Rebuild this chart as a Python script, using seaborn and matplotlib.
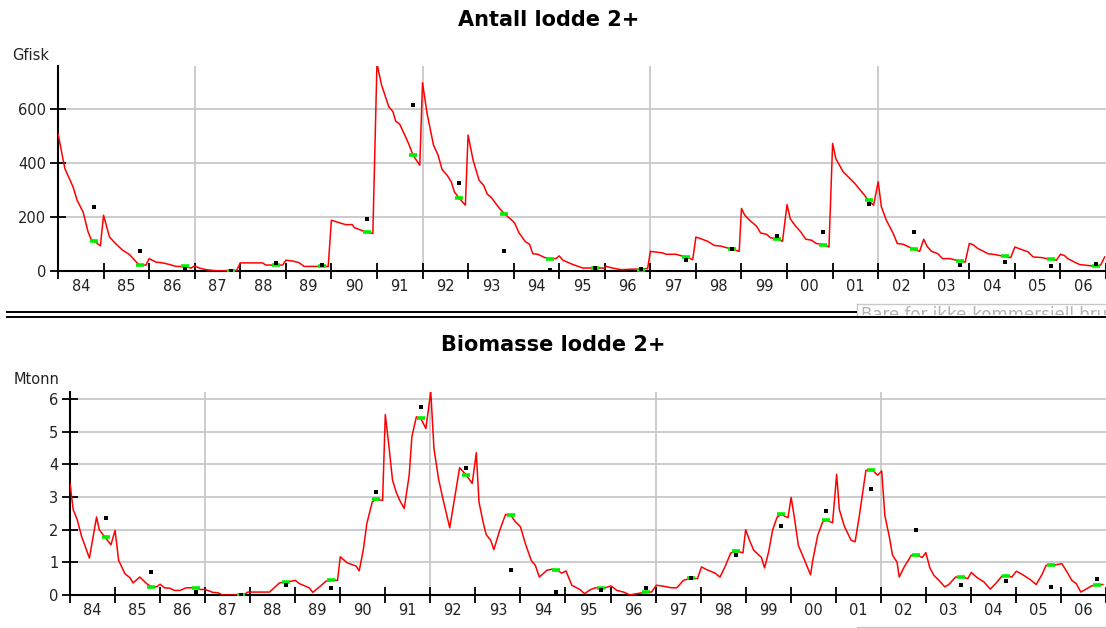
import numpy as np
import pandas as pd
import matplotlib
matplotlib.use("Agg")
import matplotlib.pyplot as plt
import seaborn as sns
from matplotlib.lines import Line2D
from matplotlib.patches import Rectangle

# Antall lodde 2+ (Gfisk) - model curve, time in decimal years
antall_t = [1984.00, 1984.15, 1984.33, 1984.42, 1984.55, 1984.66, 1984.73, 1984.84, 1984.93,
            1985.00, 1985.13, 1985.28, 1985.42, 1985.57, 1985.72, 1985.79, 1985.93,
            1986.00, 1986.15, 1986.30, 1986.45, 1986.59, 1986.77, 1986.92,
            1987.00, 1987.10, 1987.25, 1987.47, 1987.83, 1987.92,
            1988.00, 1988.49, 1988.56, 1988.93,
            1989.00, 1989.15, 1989.29, 1989.40, 1989.93,
            1990.00, 1990.31, 1990.46, 1990.50, 1990.75, 1990.91,
            1991.00, 1991.10, 1991.26, 1991.35, 1991.41, 1991.50, 1991.61, 1991.70, 1991.79, 1991.94,
            1992.00, 1992.10, 1992.24, 1992.34, 1992.43, 1992.54, 1992.63, 1992.70, 1992.80, 1992.94,
            1993.00, 1993.11, 1993.24, 1993.34, 1993.42, 1993.51, 1993.69, 1993.81, 1993.95,
            1994.02, 1994.12, 1994.26, 1994.35, 1994.42, 1994.53, 1994.68, 1994.79, 1994.93,
            1995.00, 1995.08, 1995.30, 1995.52, 1995.99,
            1996.03, 1996.17, 1996.36, 1996.94,
            1997.00, 1997.27, 1997.35, 1997.56, 1997.82, 1997.93,
            1998.00, 1998.26, 1998.40, 1998.55, 1998.81, 1998.95,
            1999.00, 1999.07, 1999.18, 1999.33, 1999.42, 1999.55, 1999.64, 1999.77, 1999.90,
            2000.00, 2000.07, 2000.17, 2000.30, 2000.41, 2000.54, 2000.64, 2000.79, 2000.92,
            2001.00, 2001.07, 2001.23, 2001.49, 2001.70, 2001.78, 2001.90,
            2002.00, 2002.07, 2002.18, 2002.33, 2002.42, 2002.55, 2002.79, 2002.91,
            2003.00, 2003.07, 2003.17, 2003.31, 2003.41, 2003.57, 2003.79, 2003.91,
            2004.00, 2004.08, 2004.19, 2004.30, 2004.41, 2004.56, 2004.77, 2004.91,
            2005.00, 2005.14, 2005.29, 2005.40, 2005.58, 2005.80, 2005.91,
            2006.00, 2006.09, 2006.16, 2006.31, 2006.42, 2006.57, 2006.79, 2006.88, 2006.97]
antall_v = [510, 380, 312, 262, 219, 145, 116, 105, 93,
            207, 126, 99, 77, 61, 33, 22, 22,
            46, 33, 30, 24, 17, 17, 11,
            19, 11, 5, 1, 1, 2,
            30, 30, 22, 22,
            40, 37, 31, 17, 17,
            188, 172, 172, 161, 145, 139,
            770, 690, 609, 591, 556, 544, 504, 470, 430, 392,
            698, 584, 467, 430, 376, 355, 331, 293, 271, 244,
            504, 411, 337, 318, 285, 272, 232, 210, 190,
            178, 141, 108, 99, 64, 62, 50, 46, 46,
            56, 40, 24, 11, 11,
            17, 11, 5, 9,
            73, 67, 62, 62, 50, 42,
            126, 110, 95, 92, 80, 73,
            232, 207, 188, 166, 141, 136, 123, 120, 110,
            246, 194, 170, 145, 118, 114, 102, 98, 89,
            473, 417, 368, 324, 281, 263, 244,
            331, 238, 188, 139, 102, 99, 80, 73,
            118, 92, 73, 64, 46, 46, 37, 33,
            102, 98, 83, 74, 64, 61, 54, 50,
            89, 80, 71, 52, 50, 43, 40,
            62, 57, 46, 33, 24, 21, 17, 21, 52]

# Biomasse lodde 2+ (Mtonn) - model curve
biomasse_t = [1984.00, 1984.07, 1984.16, 1984.26, 1984.33, 1984.43, 1984.59, 1984.65, 1984.77, 1984.91,
              1985.00, 1985.08, 1985.22, 1985.33, 1985.40, 1985.55, 1985.70, 1985.81, 1985.92,
              1986.00, 1986.10, 1986.21, 1986.32, 1986.44, 1986.58, 1986.80, 1986.88,
              1987.00, 1987.17, 1987.28, 1987.39, 1987.84, 1987.95,
              1988.43, 1988.65, 1988.78, 1988.91,
              1989.00, 1989.09, 1989.31, 1989.39, 1989.54, 1989.68, 1989.79, 1989.94,
              1990.00, 1990.16, 1990.35, 1990.42, 1990.51, 1990.59, 1990.71, 1990.79, 1990.94,
              1991.00, 1991.09, 1991.16, 1991.24, 1991.32, 1991.42, 1991.53, 1991.59, 1991.69, 1991.79, 1991.90,
              1992.01, 1992.08, 1992.18, 1992.27, 1992.43, 1992.53, 1992.65, 1992.80, 1992.93,
              1993.02, 1993.08, 1993.17, 1993.24, 1993.34, 1993.41, 1993.54, 1993.67, 1993.79, 1993.89,
              1994.00, 1994.11, 1994.24, 1994.33, 1994.42, 1994.59, 1994.70, 1994.81, 1994.92,
              1995.01, 1995.14, 1995.33, 1995.42, 1995.55, 1995.66, 1995.88,
              1996.01, 1996.14, 1996.29, 1996.43, 1996.58, 1996.80, 1996.91,
              1997.02, 1997.17, 1997.36, 1997.47, 1997.62, 1997.80, 1997.93,
              1998.02, 1998.13, 1998.32, 1998.43, 1998.54, 1998.67, 1998.82, 1998.94,
              1999.00, 1999.09, 1999.18, 1999.35, 1999.42, 1999.51, 1999.60, 1999.70, 1999.79, 1999.94,
              2000.01, 2000.08, 2000.17, 2000.31, 2000.44, 2000.49, 2000.60, 2000.71, 2000.81, 2000.93,
              2001.02, 2001.08, 2001.19, 2001.34, 2001.43, 2001.52, 2001.67, 2001.82, 2001.93,
              2002.02, 2002.09, 2002.19, 2002.26, 2002.36, 2002.41, 2002.52, 2002.68, 2002.80, 2002.92,
              2003.00, 2003.09, 2003.18, 2003.29, 2003.42, 2003.51, 2003.66, 2003.82, 2003.93,
              2004.01, 2004.14, 2004.29, 2004.43, 2004.55, 2004.69, 2004.80, 2004.91,
              2005.01, 2005.14, 2005.32, 2005.45, 2005.58, 2005.67, 2005.82,
              2006.02, 2006.15, 2006.24, 2006.34, 2006.44, 2006.57, 2006.68, 2006.81, 2006.93]
biomasse_v = [3.42, 2.62, 2.31, 1.78, 1.52, 1.13, 2.39, 2.00, 1.78, 1.54,
              1.98, 1.06, 0.65, 0.53, 0.37, 0.55, 0.35, 0.25, 0.25,
              0.33, 0.22, 0.21, 0.14, 0.14, 0.22, 0.22, 0.17,
              0.17, 0.08, 0.07, 0.00, 0.00, 0.09,
              0.09, 0.37, 0.40, 0.42,
              0.45, 0.35, 0.22, 0.08, 0.25, 0.42, 0.45, 0.45,
              1.17, 0.98, 0.89, 0.74, 1.37, 2.19, 2.85, 2.93, 2.90,
              5.53, 4.44, 3.52, 3.16, 2.90, 2.65, 3.67, 4.85, 5.46, 5.41, 5.10,
              6.23, 4.49, 3.57, 3.00, 2.06, 2.90, 3.90, 3.67, 3.42,
              4.36, 2.85, 2.24, 1.85, 1.68, 1.39, 1.98, 2.47, 2.44, 2.24,
              2.09, 1.57, 1.06, 0.91, 0.55, 0.76, 0.79, 0.76, 0.67,
              0.74, 0.30, 0.16, 0.04, 0.16, 0.22, 0.22,
              0.28, 0.14, 0.09, 0.00, 0.04, 0.09, 0.09,
              0.30, 0.27, 0.22, 0.22, 0.45, 0.52, 0.50,
              0.86, 0.78, 0.67, 0.55, 0.86, 1.29, 1.34, 1.29,
              2.00, 1.66, 1.37, 1.15, 0.83, 1.32, 2.00, 2.39, 2.47, 2.37,
              2.99, 2.39, 1.52, 1.06, 0.62, 1.06, 1.83, 2.24, 2.29, 2.21,
              3.70, 2.62, 2.11, 1.68, 1.63, 2.39, 3.82, 3.82, 3.67,
              3.80, 2.44, 1.78, 1.22, 1.01, 0.55, 0.86, 1.22, 1.22, 1.15,
              1.30, 0.83, 0.60, 0.45, 0.25, 0.32, 0.55, 0.55, 0.50,
              0.69, 0.53, 0.40, 0.18, 0.35, 0.58, 0.59, 0.55,
              0.73, 0.63, 0.47, 0.32, 0.63, 0.91, 0.91,
              0.96, 0.67, 0.45, 0.35, 0.09, 0.19, 0.28, 0.32, 0.32]

# one autumn survey per year: black squares = survey estimate, green = model at survey time
years = list(range(1984, 2007))
year_labels = ['84', '85', '86', '87', '88', '89', '90', '91', '92', '93', '94', '95',
               '96', '97', '98', '99', '00', '01', '02', '03', '04', '05', '06']
antall_survey = [238, 73, 6, 0, 28, 23, 194, 615, 327, 73, 5, 11, 9, 40, 83, 129, 145, 250, 145, 24, 33, 17, 27]
antall_green = [110, 22, 17, 1, 22, 17, 145, 430, 271, 210, 46, 11, 5, 52, 80, 120, 98, 263, 80, 37, 54, 43, 17]
biomasse_survey = [2.37, 0.69, 0.09, 0.0, 0.32, 0.22, 3.16, 5.77, 3.90, 0.78, 0.09, 0.14, 0.22, 0.52, 1.24,
                   2.11, 2.57, 3.24, 1.98, 0.32, 0.42, 0.24, 0.50]
biomasse_green = [1.78, 0.25, 0.22, 0.0, 0.40, 0.45, 2.93, 5.41, 3.67, 2.44, 0.76, 0.22, 0.09, 0.52, 1.34,
                  2.47, 2.29, 3.82, 1.22, 0.55, 0.59, 0.91, 0.32]
survey_time = 0.79
grid_years = [1987, 1992, 1997, 2002]

W, H = 1106, 628
fig = plt.figure(figsize=(W / 100, H / 100), dpi=100)


def box(l, t, r, b):
    return [l / W, 1 - b / H, (r - l) / W, (b - t) / H]


ax1 = fig.add_axes(box(58, 66, 1106, 271))
ax2 = fig.add_axes(box(70, 392, 1106, 595))

panels = [
    (ax1, antall_t, antall_v, antall_survey, antall_green, 760, [0, 200, 400, 600], (58, 45.6)),
    (ax2, biomasse_t, biomasse_v, biomasse_survey, biomasse_green, 6.22, [0, 1, 2, 3, 4, 5, 6], (70, 45.2)),
]

gridc = '#c8c8c8'
for ax, t, v, surv, green, ymax, yticks, (x0, pxyr) in panels:
    line = pd.DataFrame({'t': t, 'v': v})
    pts = pd.DataFrame({'t': [y + survey_time for y in years], 'survey': surv, 'model': green})
    for g in grid_years:
        ax.axvline(g, color=gridc, lw=1.3, zorder=0)
    sns.lineplot(data=line, x='t', y='v', estimator=None, sort=False, color='red', lw=1.1, ax=ax, zorder=3)
    ax.plot(pts['t'], pts['model'], ls='none', marker='_', ms=5.5, mew=2.6, color='#00ee00', zorder=4)
    sns.scatterplot(data=pts, x='t', y='survey', marker='s', s=11, color='black', linewidth=0, ax=ax, zorder=5)

    ax.set_xlim(1984, 1984 + (1106 - x0) / pxyr)
    ax.set_ylim(0, ymax)
    ax.set_yticks(yticks)
    ax.set_xticks(years + [2007])
    ax.set_xticklabels([])
    ax.set_xticks([y + 0.5 for y in years], labels=year_labels, minor=True)
    ax.tick_params(axis='x', which='minor', length=0, pad=6, labelsize=10.5, labelcolor='#222222')
    ax.tick_params(axis='x', which='major', direction='inout', length=11, width=1.3)
    ax.tick_params(axis='y', direction='inout', length=11, width=1.3, labelsize=10.5, pad=3,
                   labelcolor='#222222')
    ax.grid(axis='y', color=gridc, lw=1.3)
    ax.set_axisbelow(True)
    ax.set_xlabel('')
    ax.set_ylabel('')
    ax.spines[['top', 'right']].set_visible(False)
    for s in ['left', 'bottom']:
        ax.spines[s].set_linewidth(1.5)
        ax.spines[s].set_color('black')

fig.text(549 / W, 1 - 20 / H, 'Antall lodde 2+', ha='center', va='center', fontsize=15, fontweight='bold')
fig.text(553 / W, 1 - 345 / H, 'Biomasse lodde 2+', ha='center', va='center', fontsize=15, fontweight='bold')
fig.text(12 / W, 1 - 55 / H, 'Gfisk', ha='left', va='center', fontsize=10.5, color='#222222')
fig.text(14 / W, 1 - 380 / H, 'Mtonn', ha='left', va='center', fontsize=10.5, color='#222222')


def hline(x0, x1, y, **kw):
    fig.add_artist(Line2D([x0 / W, x1 / W], [1 - y / H, 1 - y / H], transform=fig.transFigure, zorder=5, **kw))


# half hidden watermark box behind the lower chart
wm = fig.text(861 / W, 1 - 306 / H, 'Bare for ikke-kommersiell bruk', ha='left', va='top',
              fontsize=12, color='#b4b4b4', zorder=3)
fig.add_artist(Rectangle((857 / W, 1 - 335 / H), (W - 857) / W, (335 - 315) / H,
                         transform=fig.transFigure, facecolor='white', edgecolor='none', zorder=4))
hline(857, 1106, 303.5, color='#c8c8c8', lw=1)
hline(857, 1106, 627, color='#c8c8c8', lw=1)
fig.add_artist(Line2D([857 / W, 857 / W], [1 - 303.5 / H, 1 - 315 / H], transform=fig.transFigure,
                      color='#c8c8c8', lw=1, zorder=5))
# double separator between the two charts
hline(7, 856, 311.5, color='black', lw=1.4)
hline(7, 1106, 316.5, color='black', lw=1.4)

fig.savefig('out.png', dpi=100)
